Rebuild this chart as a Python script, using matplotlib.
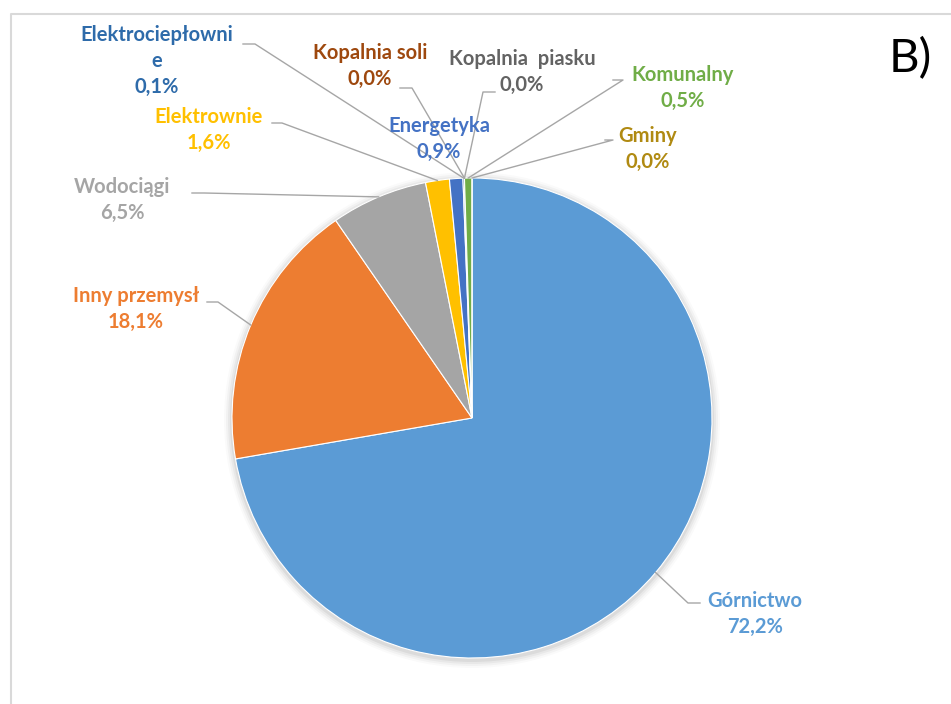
import numpy as np
import matplotlib
matplotlib.use('Agg')
import matplotlib.pyplot as plt
from matplotlib.patches import Circle

# data
categories = ['Górnictwo', 'Inny przemysł', 'Wodociągi', 'Elektrownie', 'Energetyka',
              'Elektrociepłownie', 'Kopalnia soli', 'Kopalnia piasku', 'Komunalny', 'Gminy']
shares = [72.2, 18.1, 6.5, 1.6, 0.9, 0.1, 0.0, 0.0, 0.5, 0.0]
slice_colors = ['#5B9BD5', '#ED7D31', '#A5A5A5', '#FFC000', '#4472C4',
                '#255E91', '#9E480E', '#636363', '#70AD47', '#997300']
text_colors = ['#5B9BD5', '#ED7D31', '#A5A5A5', '#FFC000', '#4472C4',
               '#2E6BAA', '#9E480E', '#636363', '#70AD47', '#B08A12']
label_names = ['Górnictwo', 'Inny przemysł', 'Wodociągi', 'Elektrownie', 'Energetyka',
               'Elektrociepłowni\ne', 'Kopalnia soli', 'Kopalnia  piasku', 'Komunalny', 'Gminy']

W, H = 951, 704
def Y(py):
    return H - py

# label centres and leader line start (pixels), None = no leader
label_pos = [(755, 614), (136, 309), (122, 200), (209, 130), (439, 139),
             (157, 61), (370, 66), (522, 72), (683, 88), (648, 149)]
leader_start = [[(700, 603), (688, 603)], [(207, 302), (218, 302)], [(192, 193), (204, 193)],
                [(272, 123), (282, 123)], None,
                [(243, 44), (255, 44)], [(400, 88), (412, 88)], [(495, 92), (483, 92)],
                [(613, 80), (623, 80)], [(605, 140), (613, 140)]]

plt.rcParams['font.family'] = ['Lato', 'DejaVu Sans']

fig = plt.figure(figsize=(W / 100, H / 100), dpi=100)
ax = fig.add_axes([0, 0, 1, 1])
ax.set_aspect('equal')

cx, cy, r = 472, Y(418), 240

# soft shadow
for k, a in enumerate([0.05, 0.04, 0.03, 0.02]):
    ax.add_patch(Circle((cx, cy - 2), r + 2 + 2 * k, color='black', alpha=a, lw=0, zorder=0))

wedges, _ = ax.pie(shares, colors=slice_colors, startangle=90, counterclock=False,
                   center=(cx, cy), radius=r, frame=True,
                   wedgeprops=dict(edgecolor='white', linewidth=0.8))
ax.set_xlim(0, W)
ax.set_ylim(0, H)
ax.axis('off')

for i, w in enumerate(wedges):
    mid = np.deg2rad((w.theta1 + w.theta2) / 2)
    tip = (cx + r * np.cos(mid), cy + r * np.sin(mid))
    if leader_start[i] is not None:
        (x0, y0), (x1, y1) = leader_start[i]
        ax.plot([x0, x1, tip[0]], [Y(y0), Y(y1), tip[1]], color='#A6A6A6', lw=1, zorder=3)
    pct = f'{shares[i]:.1f}'.replace('.', ',') + '%'
    lx, ly = label_pos[i]
    ax.text(lx, Y(ly), f'{label_names[i]}\n{pct}', color=text_colors[i], fontsize=14.5,
            fontweight='bold', ha='center', va='center', linespacing=1.35,
            multialignment='center', zorder=4)

# chart frame
ax.plot([11, 11, W + 5], [-5, Y(14), Y(14)], color='#D9D9D9', lw=1.5, zorder=1)

ax.text(910, Y(59), 'B)', fontsize=34, color='black', ha='center', va='center')

plt.savefig('out.png', dpi=100)
